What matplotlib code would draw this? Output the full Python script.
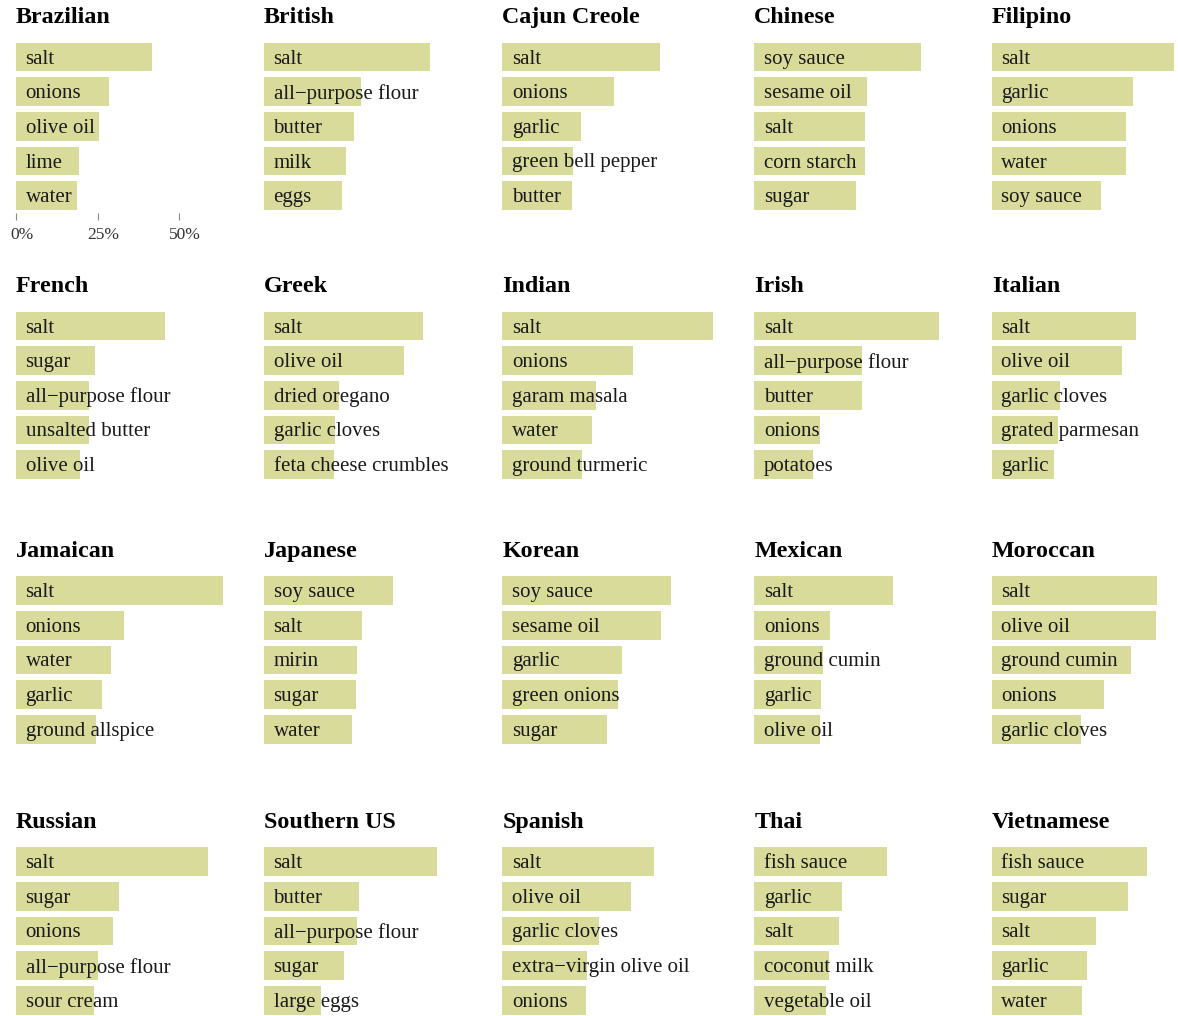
import matplotlib.pyplot as plt
from matplotlib.transforms import ScaledTranslation

# share of recipes (%) that use each ingredient, top 5 per cuisine
cuisines = ["Brazilian", "British", "Cajun Creole", "Chinese", "Filipino",
            "French", "Greek", "Indian", "Irish", "Italian",
            "Jamaican", "Japanese", "Korean", "Mexican", "Moroccan",
            "Russian", "Southern US", "Spanish", "Thai", "Vietnamese"]

ingredients = [
    ["salt", "onions", "olive oil", "lime", "water"],
    ["salt", "all\u2212purpose flour", "butter", "milk", "eggs"],
    ["salt", "onions", "garlic", "green bell pepper", "butter"],
    ["soy sauce", "sesame oil", "salt", "corn starch", "sugar"],
    ["salt", "garlic", "onions", "water", "soy sauce"],
    ["salt", "sugar", "all\u2212purpose flour", "unsalted butter", "olive oil"],
    ["salt", "olive oil", "dried oregano", "garlic cloves", "feta cheese crumbles"],
    ["salt", "onions", "garam masala", "water", "ground turmeric"],
    ["salt", "all\u2212purpose flour", "butter", "onions", "potatoes"],
    ["salt", "olive oil", "garlic cloves", "grated parmesan", "garlic"],
    ["salt", "onions", "water", "garlic", "ground allspice"],
    ["soy sauce", "salt", "mirin", "sugar", "water"],
    ["soy sauce", "sesame oil", "garlic", "green onions", "sugar"],
    ["salt", "onions", "ground cumin", "garlic", "olive oil"],
    ["salt", "olive oil", "ground cumin", "onions", "garlic cloves"],
    ["salt", "sugar", "onions", "all\u2212purpose flour", "sour cream"],
    ["salt", "butter", "all\u2212purpose flour", "sugar", "large eggs"],
    ["salt", "olive oil", "garlic cloves", "extra\u2212virgin olive oil", "onions"],
    ["fish sauce", "garlic", "salt", "coconut milk", "vegetable oil"],
    ["fish sauce", "sugar", "salt", "garlic", "water"],
]

shares = [
    [41.7, 28.5, 25.4, 19.2, 18.8],
    [50.9, 29.8, 27.7, 25.3, 23.8],
    [48.4, 34.3, 24.1, 21.6, 21.5],
    [51.2, 34.6, 34.1, 34.0, 31.1],
    [56.0, 43.2, 41.2, 41.1, 33.5],
    [45.7, 24.1, 22.5, 22.4, 19.6],
    [48.9, 43.0, 22.9, 21.8, 21.6],
    [64.5, 40.0, 28.8, 27.4, 24.4],
    [56.7, 33.0, 32.9, 20.0, 18.1],
    [44.3, 39.9, 21.0, 20.4, 19.1],
    [63.4, 33.1, 29.1, 26.5, 24.5],
    [39.7, 30.0, 28.4, 28.3, 27.1],
    [51.7, 48.8, 36.7, 35.6, 32.2],
    [42.4, 23.3, 21.0, 20.6, 20.2],
    [50.6, 50.4, 42.6, 34.4, 27.3],
    [59.0, 31.7, 29.9, 25.2, 24.0],
    [53.2, 29.2, 28.5, 24.5, 17.4],
    [46.6, 39.4, 29.6, 26.0, 25.8],
    [40.7, 27.0, 25.9, 23.0, 22.0],
    [47.7, 41.9, 32.1, 29.1, 27.7],
]

plt.rcParams['font.family'] = ['Liberation Serif', 'DejaVu Serif']

W, H = 1178, 1016
fig = plt.figure(figsize=(W / 100, H / 100), dpi=100)

col_left = [16, 264, 502.3, 754.3, 991.7]
row_top = [42.7, 311.7, 576.3, 847.3]
px_per_pct = 3.26
pitch = 34.65
bar_h = 28.7
xmax = 70

for k, name in enumerate(cuisines):
    r, c = divmod(k, 5)
    half = bar_h / pitch / 2
    y_bot = 4 + half + 2.5 / pitch
    ax_h = (y_bot + half) * pitch
    ax_w = xmax * px_per_pct
    ax = fig.add_axes([col_left[c] / W, 1 - (row_top[r] + ax_h) / H, ax_w / W, ax_h / H])
    ypos = range(len(shares[k]))
    ax.barh(ypos, shares[k], height=bar_h / pitch, color='#d9db9b', left=0)
    ax.set_xlim(0, xmax)
    ax.set_ylim(y_bot, -half)
    for s in ax.spines.values():
        s.set_visible(False)
    ax.set_yticks([])
    for i, lab in enumerate(ingredients[k]):
        ax.annotate(lab, xy=(0, i), xytext=(9.5, -2), textcoords='offset pixels',
                    va='center', ha='left', fontsize=15, color='#1a1a1a')
    ax.annotate(name, xy=(0, 1), xycoords='axes fraction', xytext=(0, 19.5),
                textcoords='offset pixels', va='baseline', ha='left',
                fontsize=17.3, fontweight='bold', color='black')
    if k == 0:
        ax.set_xticks([0, 25, 50])
        ax.set_xticklabels(['0%', '25%', '50%'])
        ax.tick_params(axis='x', length=5, width=0.8, color='#888888', pad=5.5,
                       labelsize=12.5, labelcolor='#333333')
        for t in ax.get_xticklabels():
            t.set_transform(t.get_transform() + ScaledTranslation(0.06, 0, fig.dpi_scale_trans))
    else:
        ax.set_xticks([])

fig.savefig('out.png', dpi=100)
